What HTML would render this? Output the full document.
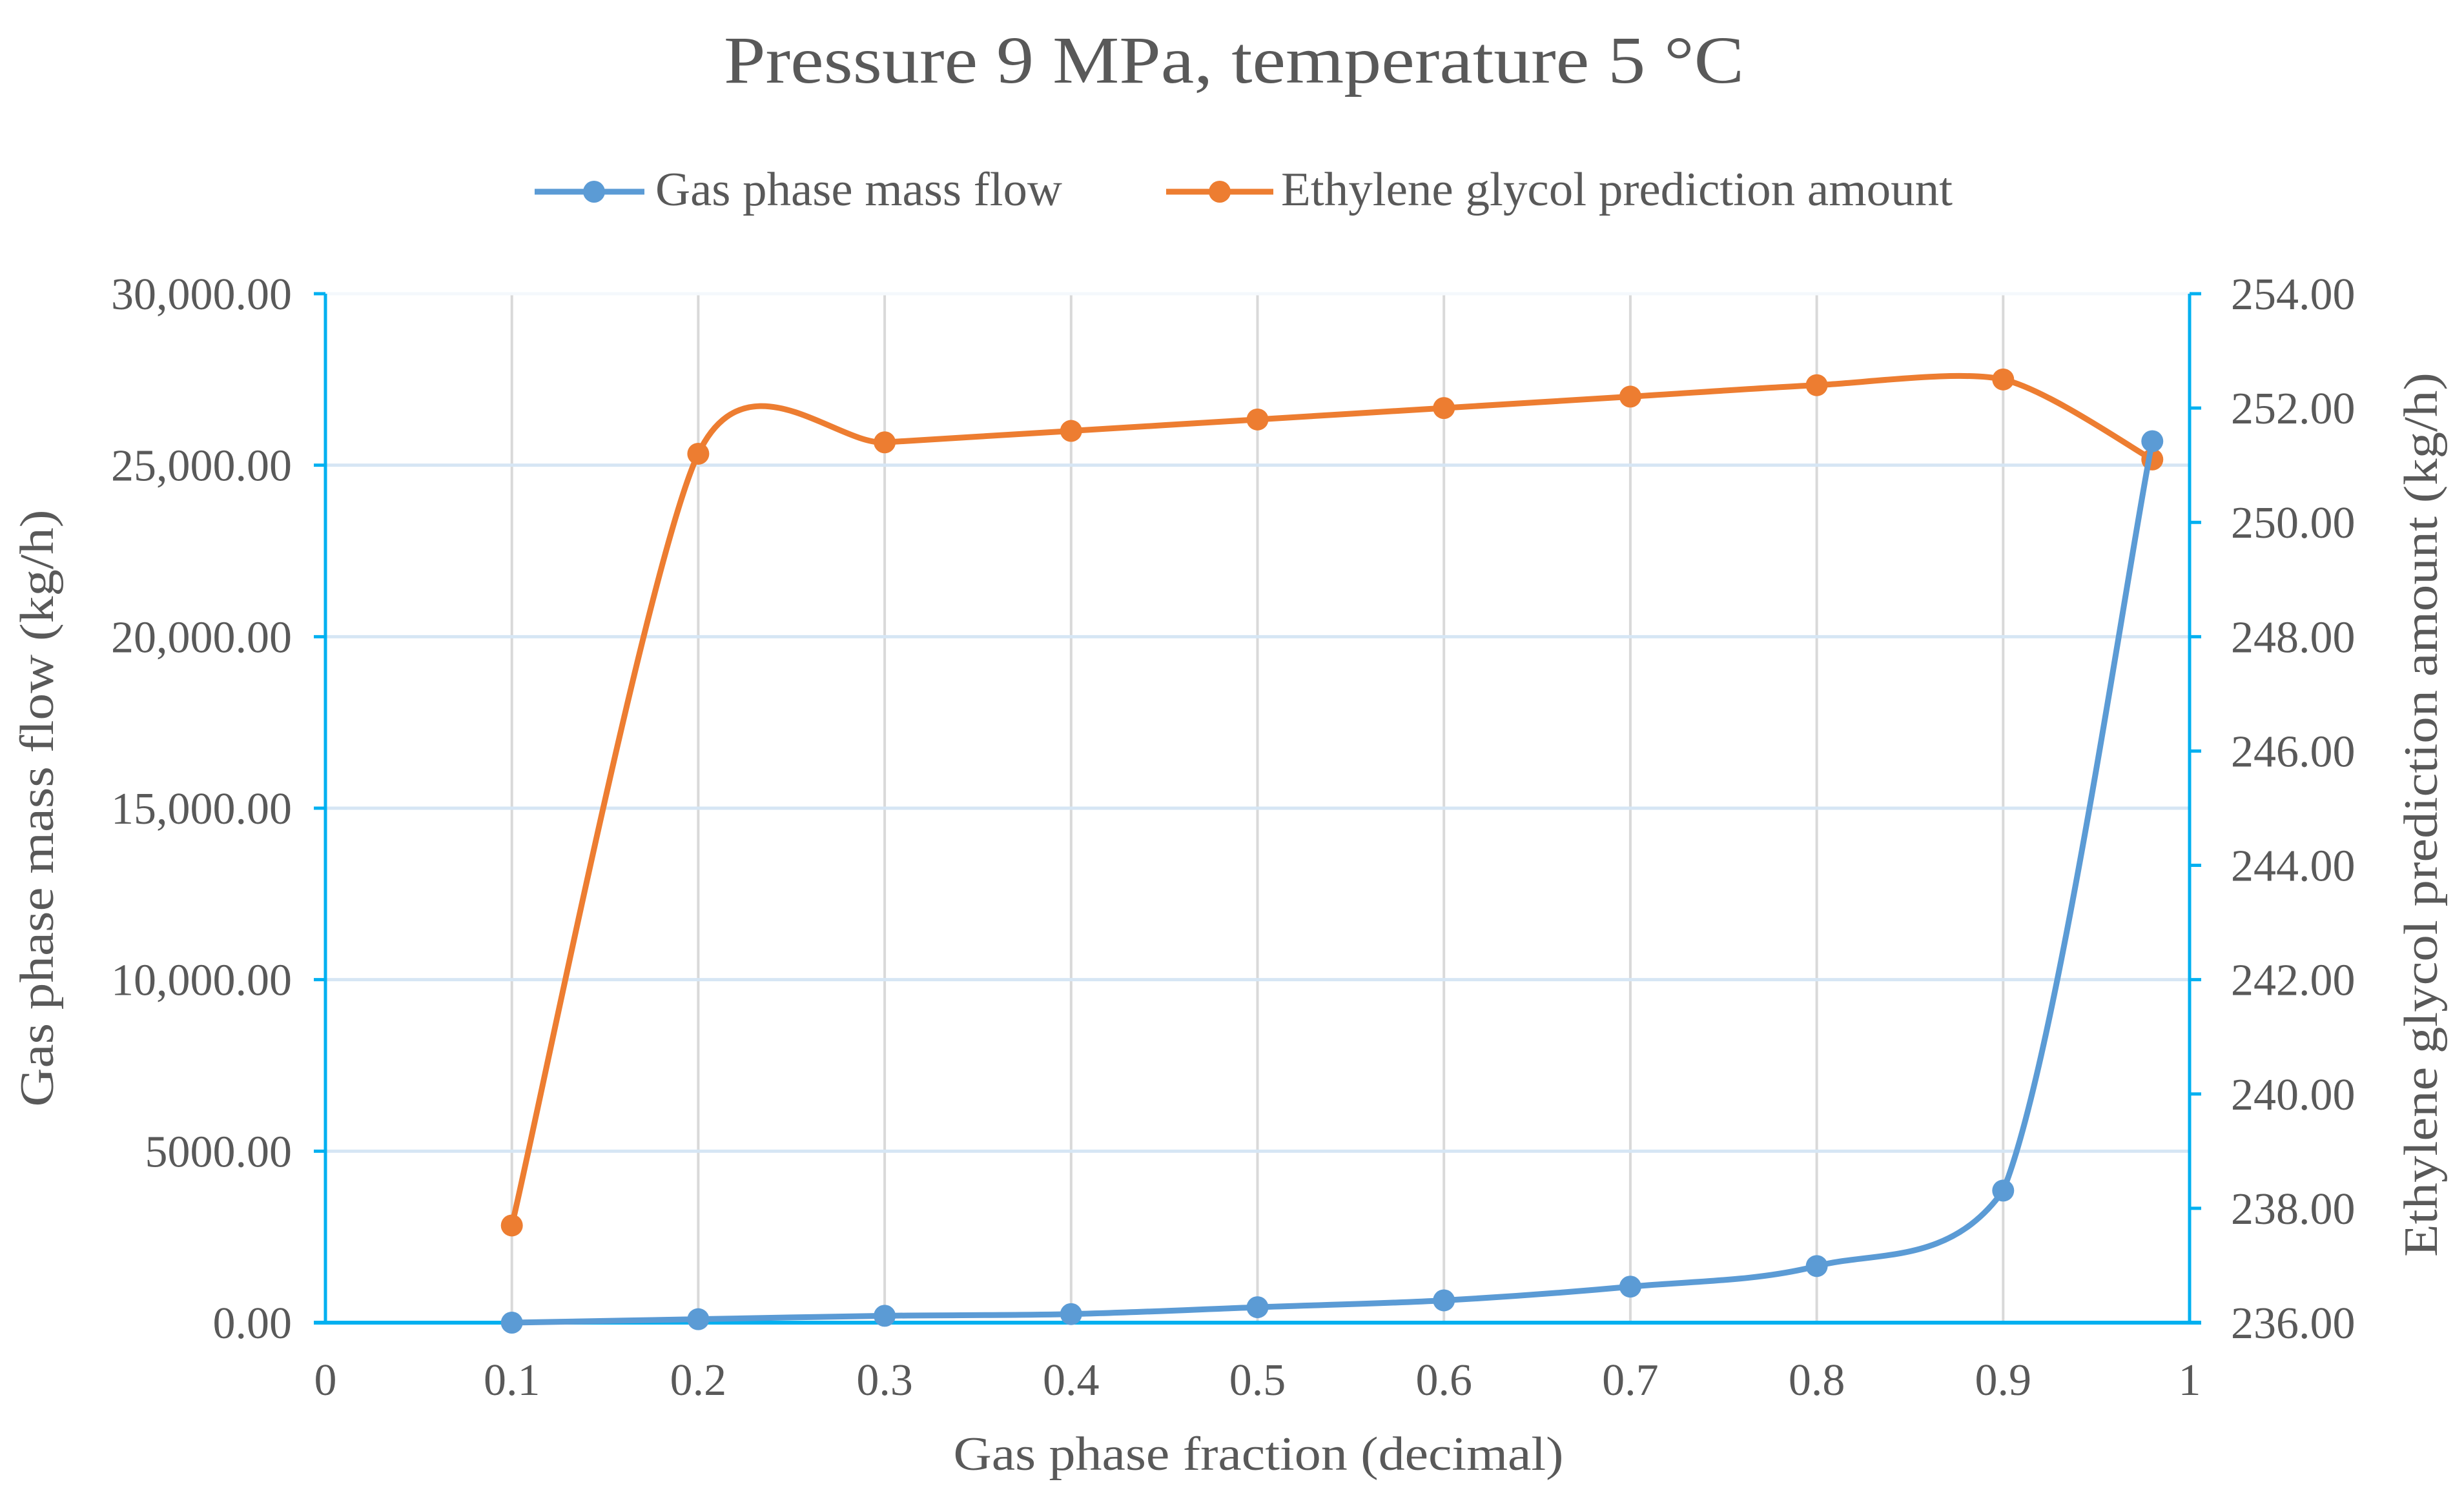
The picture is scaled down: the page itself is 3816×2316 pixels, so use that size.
<!DOCTYPE html>
<html><head><meta charset="utf-8"><style>
html,body{margin:0;padding:0;background:#fff;}
svg{display:block;}
text{font-family:"Liberation Serif",serif;fill:#595959;}
</style></head><body>
<svg id="chart" width="3816" height="2316" viewBox="0 0 3816 2316" xmlns="http://www.w3.org/2000/svg">
<text x="1911" y="128" font-size="104" text-anchor="middle" textLength="1580" lengthAdjust="spacingAndGlyphs">Pressure 9 MPa, temperature 5 °C</text>
<g id="legend">
 <g>
  <line x1="828" y1="297" x2="998" y2="297" stroke="#5b9bd5" stroke-width="9"/>
  <circle cx="920" cy="297" r="17" fill="#5b9bd5"/>
  <text x="1015" y="318" font-size="74" textLength="630" lengthAdjust="spacingAndGlyphs">Gas phase mass flow</text>
 </g>
 <g>
  <line x1="1806" y1="297" x2="1972" y2="297" stroke="#ed7d31" stroke-width="9"/>
  <circle cx="1889" cy="297" r="17" fill="#ed7d31"/>
  <text x="1984" y="318" font-size="74" textLength="1040" lengthAdjust="spacingAndGlyphs">Ethylene glycol prediction amount</text>
 </g>
</g>
<g id="grid"></g>
<g id="axes"></g>
<g id="series"></g>
<text x="1949" y="2277" font-size="74" text-anchor="middle" textLength="945" lengthAdjust="spacingAndGlyphs">Gas phase fraction (decimal)</text>
<text transform="translate(82,1252) rotate(-90)" font-size="74" text-anchor="middle" textLength="925" lengthAdjust="spacingAndGlyphs">Gas phase mass flow  (kg/h)</text>
<text transform="translate(3774,1262) rotate(-90)" font-size="74" text-anchor="middle" textLength="1370" lengthAdjust="spacingAndGlyphs">Ethylene glycol prediction amount (kg/h)</text>
</svg>
<script>
const xValues = [0.1,0.2,0.3,0.4,0.5,0.6,0.7,0.8,0.9,0.98];
const gasFlow = [0,100,200,250,450,650,1050,1650,3850,25700];
const glycol = [237.7,251.2,251.4,251.6,251.8,252.0,252.2,252.4,252.5,251.1];
const xTicks = [0,0.1,0.2,0.3,0.4,0.5,0.6,0.7,0.8,0.9,1];
const xTickLabels = ["0","0.1","0.2","0.3","0.4","0.5","0.6","0.7","0.8","0.9","1"];
const leftTicks = [0,5000,10000,15000,20000,25000,30000];
const leftTickLabels = ["0.00","5000.00","10,000.00","15,000.00","20,000.00","25,000.00","30,000.00"];
const rightTicks = [236,238,240,242,244,246,248,250,252,254];

const L=504,R=3391,T=455,B=2049;
const NS="http://www.w3.org/2000/svg";
function xs(v){return L+(v-0)/(1-0)*(R-L);}
function yl(v){return B-(v-0)/(30000-0)*(B-T);}
function yr(v){return B-(v-236)/(254-236)*(B-T);}
function mk(tag,attrs,parent){const e=document.createElementNS(NS,tag);for(const k in attrs)e.setAttribute(k,attrs[k]);parent.appendChild(e);return e;}
const grid=document.getElementById('grid'),axes=document.getElementById('axes'),series=document.getElementById('series');

xTicks.forEach((t,i)=>{
  if(i>0&&i<xTicks.length-1){
    const g=mk('line',{x1:xs(t),x2:xs(t),y1:T,y2:B,stroke:'#d9d9d9','stroke-width':4},grid);
    
    
  }
  const tx=mk('text',{x:xs(t),y:B+112,'font-size':70,'text-anchor':'middle'},axes);
  tx.textContent=xTickLabels[i];
  
  
});
leftTicks.forEach((t,i)=>{
  if(i>0){
    const g=mk('line',{x1:L,x2:R,y1:yl(t),y2:yl(t),stroke:i===leftTicks.length-1?'#f4f8fc':'#d6e6f4','stroke-width':5},grid);
    
    
  }
  mk('line',{x1:L-18,x2:L,y1:yl(t),y2:yl(t),stroke:'#00b0f0','stroke-width':5},axes);
  const tx=mk('text',{x:L-52,y:yl(t)+24,'font-size':70,'text-anchor':'end'},axes);
  tx.textContent=leftTickLabels[i];
  
  
});
rightTicks.forEach(t=>{
  mk('line',{x1:R,x2:R+18,y1:yr(t),y2:yr(t),stroke:'#00b0f0','stroke-width':5},axes);
  const tx=mk('text',{x:R+64,y:yr(t)+24,'font-size':70},axes);
  tx.textContent=t.toFixed(2);
  
  
});
mk('line',{x1:L,x2:L,y1:T,y2:B,stroke:'#00b0f0','stroke-width':5},axes);
mk('line',{x1:R,x2:R,y1:T,y2:B,stroke:'#00b0f0','stroke-width':5},axes);
mk('line',{x1:L-18,x2:R+18,y1:B,y2:B,stroke:'#00b0f0','stroke-width':6},axes);

function smooth(pts,k,clamp){
  let d='M'+pts[0][0]+','+pts[0][1];
  for(let i=0;i<pts.length-1;i++){
    const p0=pts[Math.max(0,i-1)],p1=pts[i],p2=pts[i+1],p3=pts[Math.min(pts.length-1,i+2)];
    const c1=[p1[0]+(p2[0]-p0[0])*k,p1[1]+(p2[1]-p0[1])*k];
    const c2=[p2[0]-(p3[0]-p1[0])*k,p2[1]-(p3[1]-p1[1])*k];
    if(clamp){
      const lo=Math.min(p1[1],p2[1]),hi=Math.max(p1[1],p2[1]);
      c1[1]=Math.min(hi,Math.max(lo,c1[1]));
      c2[1]=Math.min(hi,Math.max(lo,c2[1]));
    }
    d+=' C'+c1+' '+c2+' '+p2;
  }
  return d;
}
function drawSeries(vals,yf,color,name,k,clamp){
  const pts=vals.map((v,i)=>[xs(xValues[i]),yf(v)]);
  const p=mk('path',{d:smooth(pts,k,clamp),fill:'none',stroke:color,'stroke-width':9,'stroke-linejoin':'round'},series);
  
  
  pts.forEach(pt=>{
    const c=mk('circle',{cx:pt[0],cy:pt[1],r:17,fill:color},series);
    
    
  });
}
drawSeries(glycol,yr,'#ed7d31','glycol',0.13,false);
drawSeries(gasFlow,yl,'#5b9bd5','gas-flow',0.16,true);
</script>
</body></html>
